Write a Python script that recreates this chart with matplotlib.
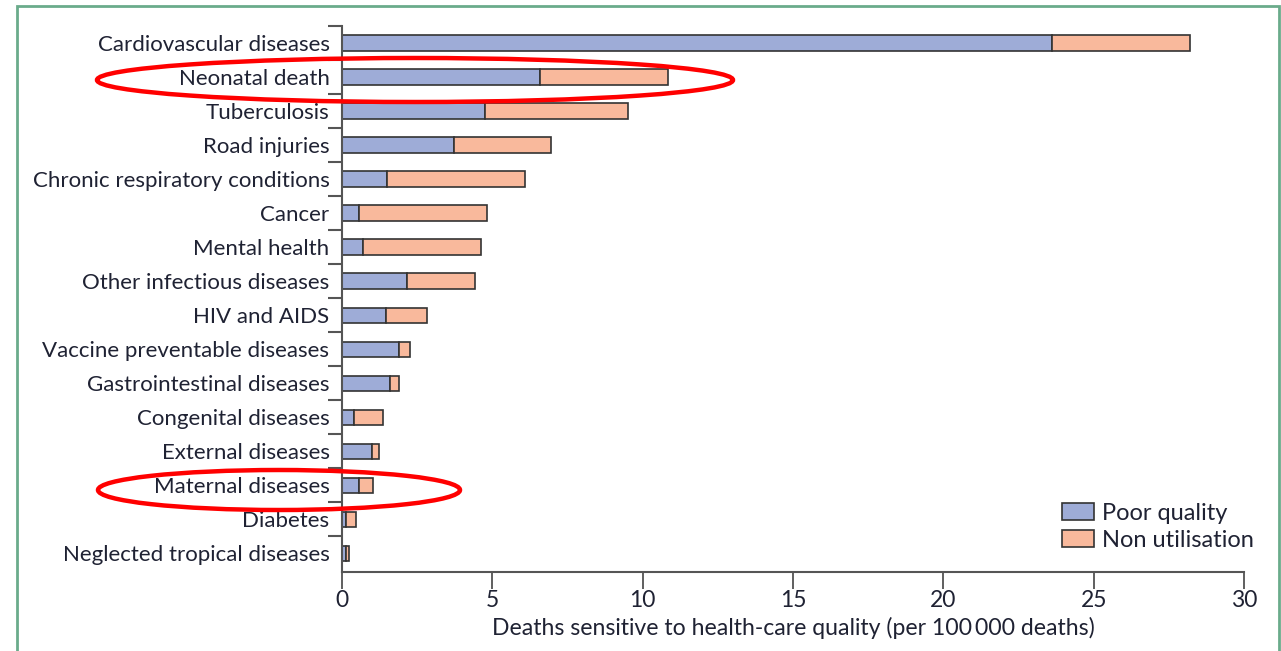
import matplotlib
matplotlib.use('Agg')
import matplotlib.pyplot as plt
from matplotlib.patches import Ellipse, Rectangle, Patch
import numpy as np

plt.rcParams['font.family'] = ['Lato', 'DejaVu Sans']

categories = ['Cardiovascular diseases', 'Neonatal death', 'Tuberculosis', 'Road injuries',
              'Chronic respiratory conditions', 'Cancer', 'Mental health',
              'Other infectious diseases', 'HIV and AIDS', 'Vaccine preventable diseases',
              'Gastrointestinal diseases', 'Congenital diseases', 'External diseases',
              'Maternal diseases', 'Diabetes', 'Neglected tropical diseases']
poor_quality = [23.6, 6.58, 4.76, 3.72, 1.49, 0.55, 0.69, 2.15, 1.47, 1.91, 1.59, 0.41,
                1.0, 0.55, 0.13, 0.12]
total = [28.2, 10.84, 9.51, 6.95, 6.09, 4.83, 4.61, 4.41, 2.84, 2.27, 1.90, 1.35,
         1.23, 1.02, 0.47, 0.23]
non_utilisation = [t - p for t, p in zip(total, poor_quality)]

blue = '#9eacd7'
orange = '#f9b99c'
edge = '#333333'
txt = '#1f2233'

fig = plt.figure(figsize=(12.81, 6.51), dpi=100)
ax = fig.add_axes([342 / 1281, 1 - 572 / 651, (1244 - 342) / 1281, (572 - 26) / 651])

y = np.arange(len(categories))
ax.barh(y, poor_quality, height=0.45, color=blue, edgecolor=edge, linewidth=1.2,
        label='Poor quality')
ax.barh(y, non_utilisation, left=poor_quality, height=0.45, color=orange,
        edgecolor=edge, linewidth=1.2, label='Non utilisation')

ax.set_xlim(0, 30)
ax.set_ylim(len(categories) - 0.45, -0.5)
ax.set_yticks(y)
ax.set_yticklabels(categories, fontsize=16, color=txt)
ax.set_yticks(np.arange(-0.5, len(categories) - 0.5, 1), minor=True)
ax.tick_params(axis='y', which='major', length=0, pad=9)
ax.tick_params(axis='y', which='minor', length=10, width=1.5, color='#555555')
ax.set_xticks(range(0, 31, 5))
ax.tick_params(axis='x', length=12, width=1.2, color='#444444', labelsize=16.5,
               labelcolor=txt, pad=1)
ax.set_xlabel('Deaths sensitive to health-care quality (per 100\u2009000 deaths)',
              fontsize=16.6, color=txt, labelpad=4)

for s in ['top', 'right']:
    ax.spines[s].set_visible(False)
ax.spines['left'].set_linewidth(1.5)
ax.spines['left'].set_color('#555555')
ax.spines['bottom'].set_linewidth(1.5)
ax.spines['bottom'].set_color('#555555')

handles = [Patch(facecolor=blue, edgecolor=edge, linewidth=1.2),
           Patch(facecolor=orange, edgecolor=edge, linewidth=1.2)]
ax.legend(handles, ['Poor quality', 'Non utilisation'], loc='lower right',
          bbox_to_anchor=(1.035, 0.0), frameon=False, fontsize=17,
          handlelength=1.35, handleheight=0.75, handletextpad=0.35, labelspacing=0.25,
          labelcolor=txt)

# red highlight ellipses (figure pixel positions)
W, H = 1281, 651
for cx, cy, w, h in [(415, 80, 636, 44), (279, 490, 362, 40)]:
    fig.patches.append(Ellipse((cx / W, 1 - cy / H), w / W, h / H, fill=False,
                               edgecolor='#ff0000', linewidth=3.2,
                               transform=fig.transFigure))

# green frame
fig.patches.append(Rectangle((17 / W, -0.05), (1279 - 17) / W, 1.05 - 6 / H,
                             fill=False, edgecolor='#6aab8b', linewidth=2,
                             transform=fig.transFigure))

fig.savefig('out.png', dpi=100)
